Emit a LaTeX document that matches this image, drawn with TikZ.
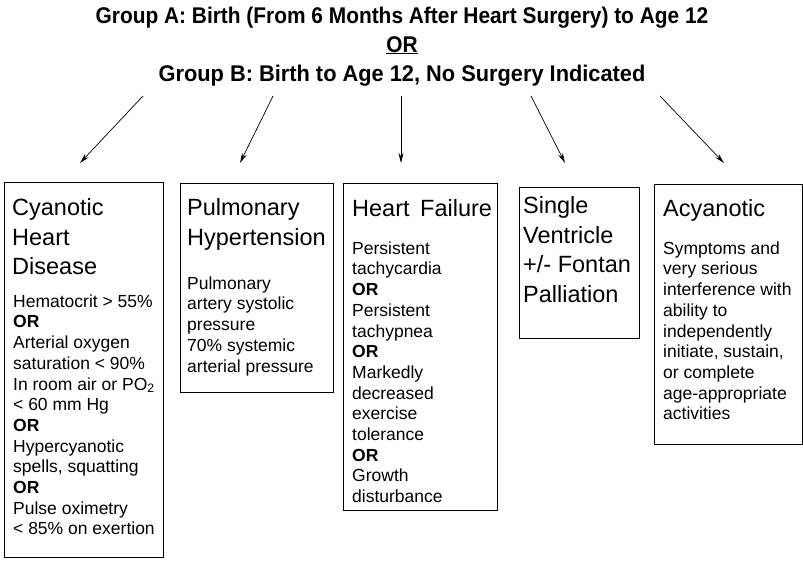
\documentclass[tikz,border=0pt]{standalone}
\usepackage{fontspec}
\setmainfont{Liberation Sans}
\newfontfamily\headfont[FakeStretch=0.92]{Liberation Sans Bold}
\newfontfamily\headfontwide[FakeStretch=0.96]{Liberation Sans Bold}
\usetikzlibrary{arrows.meta}

\begin{document}
\begin{tikzpicture}[x=1pt,y=-1pt,
  box/.style={draw, line width=0.8pt, anchor=north west, inner sep=0pt},
  head/.style={font=\headfont\fontsize{22.7}{24}\selectfont, inner sep=0pt, anchor=base},
  headwide/.style={font=\headfontwide\fontsize{22.7}{24}\selectfont, inner sep=0pt, anchor=base},
  title/.style={font=\fontsize{23.5}{29.5}\selectfont, align=left, anchor=north west, inner sep=0pt},
  body/.style={font=\fontsize{17.5}{20.7}\selectfont, align=left, anchor=north west, inner sep=0pt},
  arr/.style={line width=0.7pt, -{Stealth[length=10pt,width=5pt]}}]
\useasboundingbox (0,0) rectangle (803,563);

% heading
\node[head] (hA) at (402,23) {Group A: Birth (From 6 Months After Heart Surgery) to Age 12};
\node[head] (hor) at (402,52) {\underline{OR}};
\node[headwide] (hB) at (402,81) {Group B: Birth to Age 12, No Surgery Indicated};

% boxes
\node[box, minimum width=159pt, minimum height=375pt] (b1) at (4,182) {};
\node[box, minimum width=153pt, minimum height=209pt] (b2) at (180,183) {};
\node[box, minimum width=154pt, minimum height=327pt] (b3) at (343,183) {};
\node[box, minimum width=120pt, minimum height=151pt] (b4) at (519,187) {};
\node[box, minimum width=148pt, minimum height=260pt] (b5) at (654,184) {};

% titles (first baseline = top + 17)
\node[title] (t1) at (12,198.5) {\rule{0pt}{17pt}Cyanotic\\Heart\\Disease};
\node[title] (t2) at (187,198.5) {\rule{0pt}{17pt}Pulmonary\\Hypertension};
\node[title] (t3) at (352,199.5) {\rule{0pt}{17pt}Heart\hspace{0.45em}Failure};
\node[title] (t4) at (523,196.5) {\rule{0pt}{17pt}Single\\Ventricle\\+/- Fontan\\Palliation};
\node[title] (t5) at (663,199.5) {\rule{0pt}{17pt}Acyanotic};

% criteria (first baseline = top + 13)
\node[body] (c1) at (13,294) {\rule{0pt}{13pt}Hematocrit > 55\%\\\textbf{OR}\\Arterial oxygen\\saturation < 90\%\\In room air or PO\textsubscript{2}\\< 60 mm Hg\\\textbf{OR}\\Hypercyanotic\\spells, squatting\\\textbf{OR}\\Pulse oximetry\\< 85\% on exertion};
\node[body] (c2) at (187,276) {\rule{0pt}{13pt}Pulmonary\\artery systolic\\pressure\\70\% systemic\\arterial pressure};
\node[body] (c3) at (352,241) {\rule{0pt}{13pt}Persistent\\tachycardia\\\textbf{OR}\\Persistent\\tachypnea\\\textbf{OR}\\Markedly\\decreased\\exercise\\tolerance\\\textbf{OR}\\Growth\\disturbance};
\node[body] (c5) at (663,241) {\rule{0pt}{13pt}Symptoms and\\very serious\\interference with\\ability to\\independently\\initiate, sustain,\\or complete\\age-appropriate\\activities};

% arrows from the heading down to each group
\coordinate (s1) at (143,96);  \coordinate (e1) at (80,163);
\coordinate (s2) at (273,96);  \coordinate (e2) at (240,163);
\coordinate (s3) at (401,96);  \coordinate (e3) at (401,163);
\coordinate (s4) at (531,96);  \coordinate (e4) at (565,163);
\coordinate (s5) at (660,96);  \coordinate (e5) at (724,163);
\foreach \i in {1,...,5} \draw[arr] (s\i) -- (e\i);
\end{tikzpicture}
\end{document}
